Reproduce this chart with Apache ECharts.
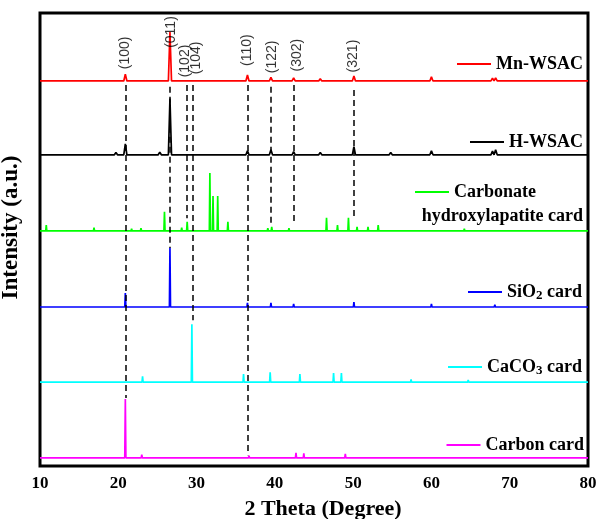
<!DOCTYPE html>
<html><head><meta charset="utf-8">
<script src="https://cdn.jsdelivr.net/npm/echarts@6/dist/echarts.min.js"></script>
<style>html,body{margin:0;padding:0;background:#fff}#c{width:599px;height:519px}</style>
</head><body><div id="c"></div>
<script>
// ---- data ----
const xTicks = [10, 20, 30, 40, 50, 60, 70, 80];
const seriesNames = ['Mn-WSAC', 'H-WSAC', 'Carbonate hydroxylapatite card', 'SiO2 card', 'CaCO3 card', 'Carbon card'];
const baselines = [85.0, 68.7, 51.9, 35.1, 18.5, 1.8];
// [2theta, relative height above baseline]
const mnPeaks = [[19.7,0.4],[20.9,1.5],[25.3,0.4],[26.6,10.8],[28.8,0.3],[30.0,0.3],[36.5,1.3],[39.5,0.8],[40.3,0.3],[42.4,0.7],[45.8,0.5],[50.1,1.1],[54.8,0.4],[60.0,0.9],[67.8,0.6],[68.2,0.7],[73.5,0.2],[75.8,0.3]];
const hPeaks = [[19.7,0.5],[20.9,2.4],[25.3,0.6],[26.6,12.4],[28.8,0.4],[36.5,0.9],[39.5,1.1],[40.3,0.3],[42.4,0.7],[45.8,0.5],[50.1,1.8],[54.8,0.5],[60.0,0.9],[64.0,0.2],[67.8,0.8],[68.2,1.1],[73.5,0.2],[75.8,0.3]];
const chaPeaks = [[10.8,1.3],[16.9,0.7],[18.8,0.3],[21.7,0.5],[22.9,0.6],[25.9,4.2],[28.1,0.7],[28.8,2.0],[31.7,12.8],[32.1,7.7],[32.7,7.7],[34.0,2.0],[35.3,0.3],[39.1,0.6],[39.6,0.9],[41.8,0.6],[44.0,0.4],[45.2,0.4],[46.6,2.9],[48.0,1.3],[49.4,2.9],[50.5,0.9],[51.9,0.9],[53.2,1.3],[55.8,0.3],[58.2,0.3],[59.5,0.3],[60.8,0.3],[62.0,0.3],[62.9,0.3],[64.2,0.5],[64.6,0.4],[66.5,0.3],[67.5,0.2],[69.6,0.3],[71.3,0.2],[73.0,0.2],[75.5,0.3],[76.8,0.3],[78.0,0.2]];
const sio2Peaks = [[20.9,3.1],[26.6,13.0],[36.5,0.9],[39.5,0.9],[40.3,0.4],[42.4,0.7],[45.8,0.3],[50.1,1.1],[54.9,0.3],[60.0,0.7],[67.8,0.3],[68.1,0.5],[73.5,0.2],[75.6,0.2]];
const caco3Peaks = [[23.1,1.3],[29.4,12.8],[31.5,0.3],[36.0,1.8],[39.4,2.2],[43.2,1.8],[47.5,2.0],[48.5,2.0],[57.4,0.6],[60.7,0.3],[61.0,0.3],[63.1,0.3],[64.7,0.5],[65.6,0.2],[69.2,0.2],[70.3,0.2],[77.1,0.2]];
const carbonPeaks = [[20.9,13.0],[23.0,0.7],[36.7,0.5],[42.7,1.1],[43.7,1.0],[47.0,0.3],[49.0,0.9],[51.8,0.3],[57.6,0.4],[78.1,0.4]];
const allPeaks = [mnPeaks, hPeaks, chaPeaks, sio2Peaks, caco3Peaks, carbonPeaks];
// hkl reference lines: position, top, bottom of dashed line
const hklNames = ['(100)', '(011)', '(102)', '(104)', '(110)', '(122)', '(302)', '(321)'];
const hklLinePos = [20.9, 26.6, 28.8, 29.5, 36.6, 39.5, 42.4, 50.1];
const hklLineTop = [84.1, 83.7, 84.1, 84.1, 84.1, 83.7, 84.1, 83.0];
const hklLineBottom = [15.0, 48.1, 54.7, 32.2, 2.4, 53.4, 53.6, 55.2];
const hklLabelX = [20.9, 26.7, 28.5, 29.9, 36.4, 39.6, 42.8, 50.0];
const hklLabelY = [91.2, 95.8, 89.4, 90.1, 91.8, 90.3, 90.7, 90.5];
const legendLabels = ['{n|Mn-WSAC}', '{n|H-WSAC}', '{n|Carbonate}', '{n|SiO}{s|2}{n| card}', '{n|CaCO}{s|3}{n| card}', '{n|Carbon card}'];

// ---- styles ----
const colors = ['#ff0000', '#000000', '#00ff00', '#0000ff', '#00ffff', '#ff00ff'];
const peakHalfWidth = [0.2, 0.2, 0.07, 0.07, 0.07, 0.07];
const legendTop = [55, 133, 183, 283, 358, 436];
const legendRight = [16, 16, 63, 17, 17, 15];
const serif = 'Liberation Serif';

function profile(peaks, base, w) {
  const pts = [[xTicks[0], base]];
  peaks.slice().sort((a, b) => a[0] - b[0]).forEach(p => {
    pts.push([p[0] - w, base], [p[0], base + p[1]], [p[0] + w, base]);
  });
  pts.push([xTicks[xTicks.length - 1], base]);
  return pts;
}

const series = seriesNames.map((name, i) => ({
  name, type: 'line', data: profile(allPeaks[i], baselines[i], peakHalfWidth[i]),
  symbol: 'none', showSymbol: false, color: colors[i],
  lineStyle: { color: colors[i], width: 1.7 }, animation: false, z: 3
}));
series.push({
  name: 'hkl', type: 'scatter', symbolSize: 0, animation: false, z: 5,
  data: hklNames.map((n, i) => [hklLabelX[i], hklLabelY[i], n]),
  label: { show: true, position: 'inside', rotate: 90, formatter: p => p.data[2],
    fontFamily: 'Liberation Sans', fontSize: 14, color: '#000' },
  markLine: { silent: true, symbol: 'none', animation: false,
    lineStyle: { type: [6, 4], color: '#000', width: 1.5 }, label: { show: false },
    data: hklLinePos.map((x, i) => [{ coord: [x, hklLineTop[i]] }, { coord: [x, hklLineBottom[i]] }]) }
});

const richStyle = {
  n: { fontFamily: serif, fontWeight: 'bold', fontSize: 18, color: '#000', lineHeight: 20 },
  s: { fontFamily: serif, fontWeight: 'bold', fontSize: 13, color: '#000', lineHeight: 12, verticalAlign: 'bottom' }
};
const legends = seriesNames.map((name, i) => ({
  data: [name], top: legendTop[i], right: legendRight[i], padding: 0,
  icon: 'rect', itemWidth: 34, itemHeight: 2, itemGap: 4, selectedMode: false,
  formatter: () => legendLabels[i],
  textStyle: { fontFamily: serif, fontWeight: 'bold', fontSize: 18, color: '#000', rich: richStyle }
}));

const chart = echarts.init(document.getElementById('c'), null, { renderer: 'canvas' });
chart.setOption({
  backgroundColor: '#fff',
  animation: false,
  grid: { left: 40, right: 11, top: 13, bottom: 53, show: true, borderColor: '#000', borderWidth: 3,
    containLabel: false, outerBoundsMode: 'none' },
  xAxis: {
    type: 'value', min: xTicks[0], max: xTicks[xTicks.length - 1], interval: 10,
    name: '2 Theta (Degree)', nameLocation: 'middle', nameGap: 32,
    nameTextStyle: { fontFamily: serif, fontWeight: 'bold', fontSize: 22, color: '#000', padding: [0, 0, 0, 18] },
    axisLine: { show: false }, axisTick: { show: false }, splitLine: { show: false },
    axisLabel: { fontFamily: serif, fontWeight: 'bold', fontSize: 17, color: '#000', margin: 9 }
  },
  yAxis: {
    type: 'value', min: 0, max: 100,
    name: 'Intensity (a.u.)', nameLocation: 'middle', nameGap: 17, nameRotate: 90,
    nameTextStyle: { fontFamily: serif, fontWeight: 'bold', fontSize: 23, color: '#000', padding: [0, 0, 0, 24] },
    axisLine: { show: false }, axisTick: { show: false }, splitLine: { show: false }, axisLabel: { show: false }
  },
  legend: legends,
  graphic: [{ type: 'text', right: 16, top: 207, z: 10,
    style: { text: 'hydroxylapatite card', font: 'bold 18px "Liberation Serif"', fill: '#000' } }],
  series
});
</script></body></html>
